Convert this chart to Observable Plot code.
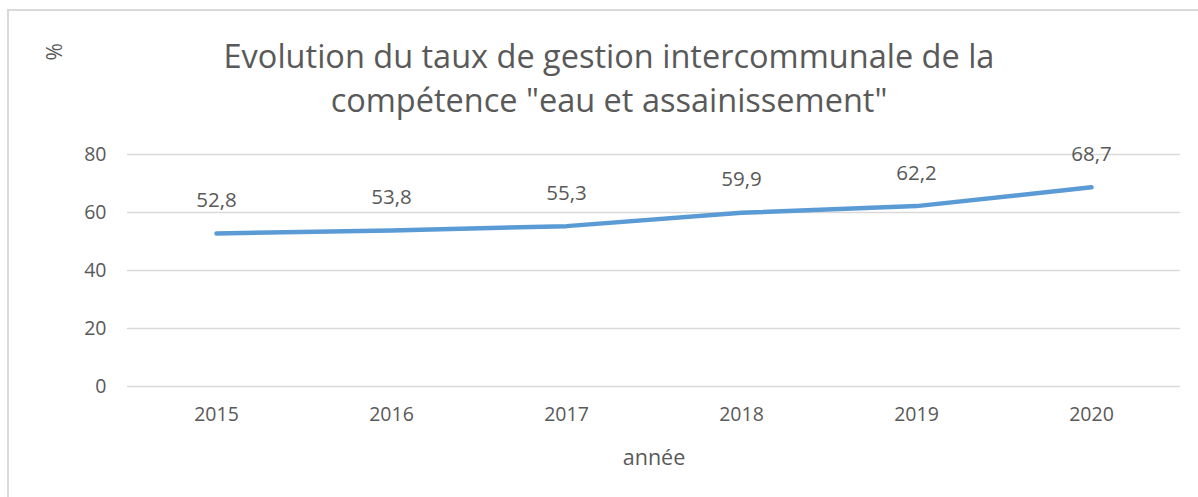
<!DOCTYPE html>
<html>
<head>
<meta charset="utf-8">
<script src="https://cdn.jsdelivr.net/npm/d3@7"></script>
<script src="https://cdn.jsdelivr.net/npm/@observablehq/plot@0.6"></script>
<style>
  html, body { margin: 0; padding: 0; background: #fff; }
  #wrap { position: relative; width: 1198px; height: 497px; overflow: hidden; font-family: "Open Sans", sans-serif; }
  #frame { position: absolute; left: 7px; top: 9px; width: 1300px; height: 600px; border-left: 2px solid #d9d9d9; border-top: 2px solid #d9d9d9; }
  #title { position: absolute; left: 0; width: 1218px; top: 34px; text-align: center; font-size: 32.5px; line-height: 44px; color: #595959; }
  #chart { position: absolute; left: 0; top: 0; }
</style>
</head>
<body>
<div id="wrap">
  <div id="frame"></div>
  <div id="chart"></div>
  <div id="title">Evolution du taux de gestion intercommunale de la<br>compétence "eau et assainissement"</div>
</div>
<script>
const years = ["2015", "2016", "2017", "2018", "2019", "2020"];
const rates = [52.8, 53.8, 55.3, 59.9, 62.2, 68.7];
const yTicks = [0, 20, 40, 60, 80];
const xLabel = "année";
const yLabel = "%";

const data = years.map((y, i) => ({year: y, rate: rates[i], label: String(rates[i]).replace(".", ",")}));
const txt = "#595959";

const chart = Plot.plot({
  width: 1198,
  height: 497,
  marginTop: 154,
  marginBottom: 111,
  marginLeft: 127,
  marginRight: 18,
  style: {fontFamily: "'Open Sans', sans-serif", background: "transparent", overflow: "visible"},
  x: {type: "point", domain: years, padding: 0.5},
  y: {domain: [0, 80]},
  marks: [
    Plot.ruleY(yTicks, {stroke: "#d9d9d9", strokeWidth: 1.5}),
    Plot.axisY({ticks: yTicks, tickSize: 0, tickPadding: 21, label: null, fontSize: 19.5, color: txt}),
    Plot.axisX({tickSize: 0, tickPadding: 21, label: null, fontSize: 19.5, color: txt}),
    Plot.line(data, {x: "year", y: "rate", stroke: "#5b9bd5", strokeWidth: 4.5, strokeLinecap: "round", strokeLinejoin: "round"}),
    Plot.text(data, {x: "year", y: "rate", text: "label", dy: -33, fontSize: 20.5, fill: txt, lineAnchor: "middle"}),
    Plot.text([xLabel], {frameAnchor: "bottom", dy: 72, fontSize: 21.5, fill: txt, lineAnchor: "middle"}),
    Plot.text([yLabel], {frameAnchor: "top-left", dx: -72, dy: -94, rotate: -90, fontSize: 21, fill: txt, lineAnchor: "middle"})
  ]
});
document.getElementById("chart").appendChild(chart);
</script>
</body>
</html>
